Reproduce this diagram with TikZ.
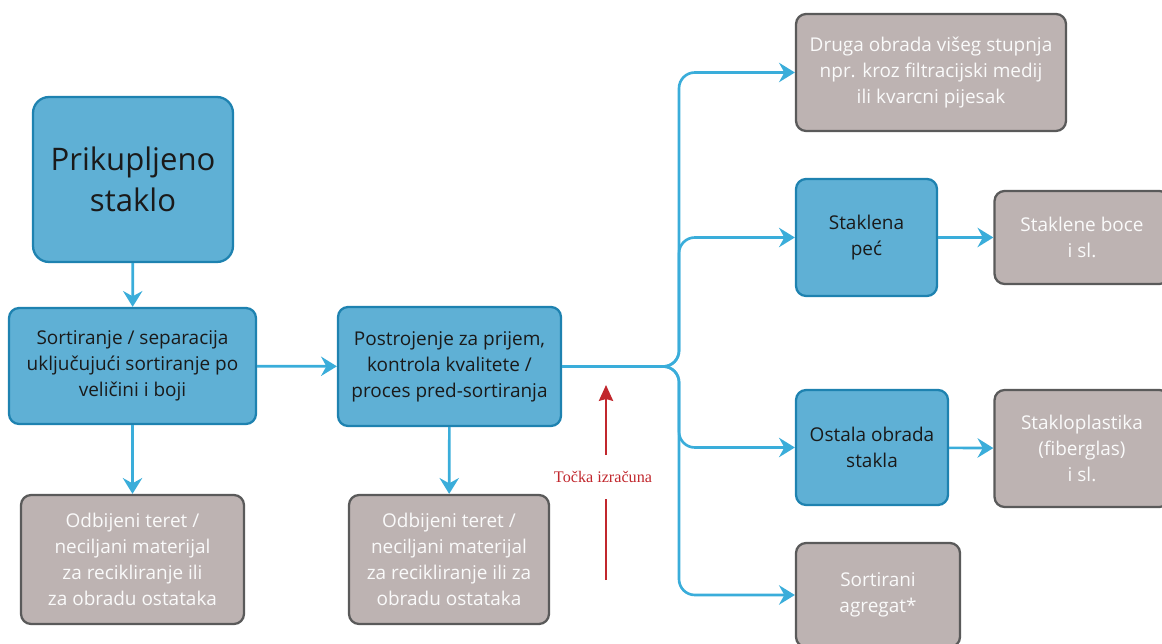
\documentclass[tikz,border=0pt]{standalone}
\usepackage{fontspec}
\setmainfont{Open Sans}
\newfontfamily\serifred{Liberation Serif}
\usetikzlibrary{arrows.meta}
\definecolor{boxblue}{HTML}{5FB0D5}
\definecolor{blueedge}{HTML}{1E82B0}
\definecolor{boxgray}{HTML}{BDB3B2}
\definecolor{grayedge}{HTML}{5A5A5A}
\definecolor{connc}{HTML}{3AADDA}
\definecolor{redarrow}{HTML}{C1272D}
\definecolor{darktext}{HTML}{1A1A1A}
\begin{document}
\begin{tikzpicture}[x=0.02cm,y=-0.02cm,
  basebox/.style={line width=1.3pt, rounded corners=0.2cm, align=center, inner sep=0pt,
    font=\fontsize{10.8}{14.8}\selectfont},
  bluebox/.style={basebox, draw=blueedge, fill=boxblue, text=darktext},
  graybox/.style={basebox, draw=grayedge, fill=boxgray, text=white!96!gray},
  flow/.style={draw=connc, line width=1.5pt, -{Stealth[length=9pt,width=11pt,inset=3pt]}},
  redflow/.style={draw=redarrow, line width=1.4pt},
]
\useasboundingbox (0,0) rectangle (1162,644);

\node[bluebox, minimum width=4cm, minimum height=3.3cm, rounded corners=0.32cm,
      font=\fontsize{17.7}{23.5}\selectfont] (A) at (133,179.5) {Prikupljeno\\staklo};
\node[bluebox, minimum width=4.94cm, minimum height=2.32cm] (B) at (132.5,366)
  {Sortiranje / separacija\\uključujući sortiranje po\\veličini i boji};
\node[graybox, minimum width=4.46cm, minimum height=2.58cm] (C) at (132.5,559.5)
  {Odbijeni teret /\\neciljani materijal\\za recikliranje ili\\za obradu ostataka};
\node[bluebox, minimum width=4.46cm, minimum height=2.38cm] (D) at (449.5,366.5)
  {Postrojenje za prijem,\\kontrola kvalitete /\\proces pred-sortiranja};
\node[graybox, minimum width=4cm, minimum height=2.58cm] (E) at (449,559.5)
  {Odbijeni teret /\\neciljani materijal\\za recikliranje ili za\\obradu ostataka};
\node[graybox, minimum width=5.4cm, minimum height=2.34cm] (F) at (931,72.5)
  {Druga obrada višeg stupnja\\npr. kroz filtracijski medij\\ili kvarcni pijesak};
\node[bluebox, minimum width=2.82cm, minimum height=2.34cm] (G) at (866.5,237.5)
  {Staklena\\peć};
\node[graybox, minimum width=3.5cm, minimum height=1.86cm] (H) at (1082,237.5)
  {Staklene boce\\i sl.};
\node[bluebox, minimum width=3.04cm, minimum height=2.3cm] (I) at (872,447.5)
  {Ostala obrada\\stakla};
\node[graybox, minimum width=3.5cm, minimum height=2.34cm] (J) at (1082,448.5)
  {Stakloplastika\\(fiberglas)\\i sl.};
\node[graybox, minimum width=3.28cm, minimum height=2.08cm] (K) at (878,595)
  {Sortirani\\agregat*};

\coordinate (j) at (679,366.5);
\draw[flow] (A) -- (B);
\draw[flow] (B) -- (C);
\draw[flow] (B) -- (D);
\draw[flow] (D) -- (E);
\draw[flow] (G) -- (H);
\draw[flow] (I) -- (J);
\draw[flow, rounded corners=9pt] (D.east) -- (j) |- (F.west);
\draw[flow, rounded corners=9pt] (D.east) -- (j) |- (G.west);
\draw[flow, rounded corners=9pt] (D.east) -- (j) |- (I.west);
\draw[flow, rounded corners=9pt] (D.east) -- (j) |- (K.west);

\coordinate (rtop) at (606,385);
\coordinate (rbot) at (606,580);
\node[text=redarrow, font=\serifred\fontsize{9.2}{10}\selectfont, inner sep=0pt,
      minimum height=0.86cm] (L) at (603,477) {Točka izračuna};
\draw[redflow, -{Stealth[length=9pt,width=8pt,inset=1pt]}] (L.north -| rtop) -- (rtop);
\draw[redflow] (rbot) -- (L.south -| rbot);
\end{tikzpicture}
\end{document}
